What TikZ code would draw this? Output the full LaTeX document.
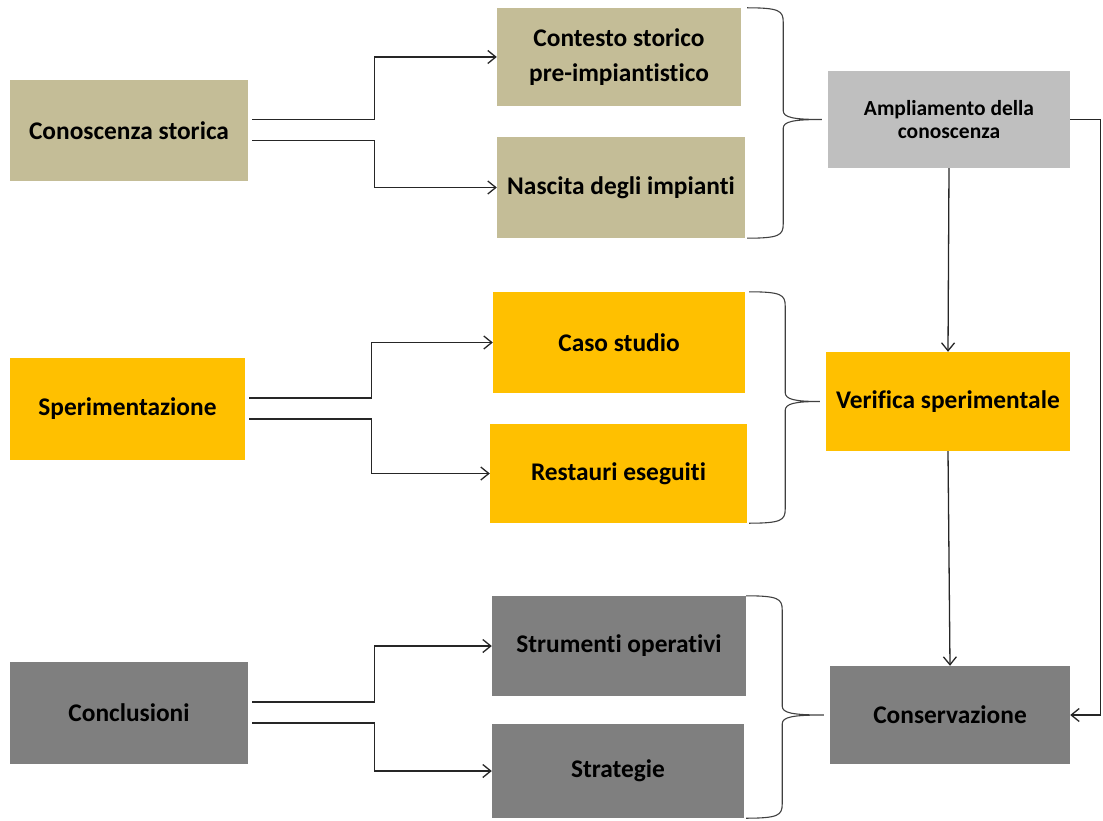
\documentclass[tikz,border=0pt]{standalone}
\usepackage{fontspec}
\setmainfont{Carlito}[Ligatures=NoCommon]
\usetikzlibrary{arrows.meta,calc}

\definecolor{beigebox}{HTML}{C4BD97}
\definecolor{goldbox}{HTML}{FFC000}
\definecolor{lightbox}{HTML}{BFBFBF}
\definecolor{darkbox}{HTML}{7F7F7F}

\tikzset{
  box/.style={rectangle,inner sep=0pt,align=center,text=black,
    font=\bfseries\fontsize{25.4}{35}\selectfont},
  storia/.style={box,fill=beigebox},
  prova/.style={box,fill=goldbox},
  fine/.style={box,fill=darkbox},
  esito/.style={box,fill=lightbox,font=\bfseries\fontsize{21.5}{23}\selectfont},
  link/.style={draw=black!85,line width=1.3pt,-{Straight Barb[length=8pt,width=13pt]}},
  bracket/.style={draw=black!75,line width=1.1pt}
}

\begin{document}
\begin{tikzpicture}[x=1pt,y=-1pt]
\useasboundingbox (0,0) rectangle (1103,821);

%Left column
\node[storia,minimum width=238pt,minimum height=101pt] (kon) at (129,130.5) {Conoscenza storica};
\node[prova,minimum width=235pt,minimum height=102pt] (sper) at (127.5,409) {Sperimentazione};
\node[fine,minimum width=238pt,minimum height=102pt] (concl) at (129,713) {Conclusioni};

%Middle column
\node[storia,minimum width=244pt,minimum height=98pt] (ctx) at (619,57) {Contesto storico\\pre-impiantistico};
\node[storia,minimum width=248pt,minimum height=101pt] (nasc) at (621,187.5) {Nascita degli impianti};
\node[prova,minimum width=252pt,minimum height=101pt] (caso) at (619,342.5) {Caso studio};
\node[prova,minimum width=257pt,minimum height=99pt] (rest) at (618.5,473.5) {Restauri eseguiti};
\node[fine,minimum width=254pt,minimum height=100pt] (strum) at (619,646) {Strumenti operativi};
\node[fine,minimum width=252pt,minimum height=94pt] (strat) at (618,771) {Strategie};

%Right column
\node[esito,minimum width=242pt,minimum height=97pt] (ampl) at (949,119.5) {Ampliamento della\\conoscenza};
\node[prova,minimum width=244pt,minimum height=99pt] (verif) at (948,401.5) {Verifica sperimentale};
\node[fine,minimum width=240pt,minimum height=98pt] (cons) at (950,715) {Conservazione};

%Elbow connectors
\foreach \s/\a/\b in {kon/ctx/nasc,sper/caso/rest,concl/strum/strat}{
  \draw[link] ([xshift=4pt,yshift=11pt]\s.east) -- ++(122,0) |- (\a.west);
  \draw[link] ([xshift=4pt,yshift=-10pt]\s.east) -- ++(122,0) |- (\b.west);
}

%Braces
\foreach \a/\b/\c in {ctx/nasc/ampl,caso/rest/verif,strum/strat/cons}
  \draw[bracket] let \p1=(\a.north east), \p2=(\b.south east), \p3=(\c.west) in
    (\x2+2pt,\y1) .. controls (\x2+34pt,\y1) and (\x2+38pt,\y1-3pt) .. (\x2+38pt,\y1-14pt)
    -- (\x2+38pt,\y3+9pt) .. controls (\x2+38pt,\y3+2pt) and (\x2+48pt,\y3) .. (\x3-6pt,\y3)
    (\x3-6pt,\y3) .. controls (\x2+48pt,\y3) and (\x2+38pt,\y3-2pt) .. (\x2+38pt,\y3-9pt)
    -- (\x2+38pt,\y2+14pt) .. controls (\x2+38pt,\y2+3pt) and (\x2+34pt,\y2) .. (\x2+2pt,\y2);

%Vertical flow
\draw[link] (ampl.south) -- (verif.north);
\draw[link] (verif.south) -- (cons.north);
\draw[link] (ampl.east) -- ++(30,0) |- (cons.east);

\end{tikzpicture}
\end{document}
